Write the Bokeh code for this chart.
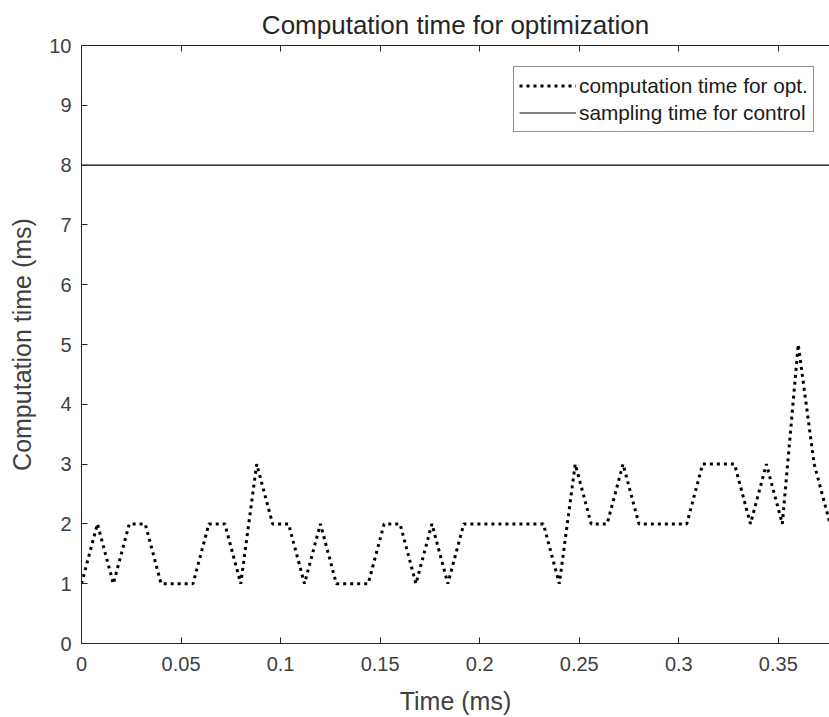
from bokeh.plotting import figure
from bokeh.models import (FixedTicker, LinearAxis, Title, Legend, LegendItem,
                          Range1d, CustomJSTickFormatter)
from bokeh.embed import file_html
from bokeh.resources import INLINE

# ---- data ----
time_ms = [0.000, 0.008, 0.016, 0.024, 0.032, 0.040, 0.048, 0.056, 0.064, 0.072,
           0.080, 0.088, 0.096, 0.104, 0.112, 0.120, 0.128, 0.136, 0.144, 0.152,
           0.160, 0.168, 0.176, 0.184, 0.192, 0.200, 0.208, 0.216, 0.224, 0.232,
           0.240, 0.248, 0.256, 0.264, 0.272, 0.280, 0.288, 0.296, 0.304, 0.312,
           0.320, 0.328, 0.336, 0.344, 0.352, 0.360, 0.368, 0.376]
computation_time = [1, 2, 1, 2, 2, 1, 1, 1, 2, 2,
                    1, 3, 2, 2, 1, 2, 1, 1, 1, 2,
                    2, 1, 2, 1, 2, 2, 2, 2, 2, 2,
                    1, 3, 2, 2, 3, 2, 2, 2, 2, 3,
                    3, 3, 2, 3, 2, 5, 3, 2]
sampling_time = 8

x_ticks = [0, 0.05, 0.1, 0.15, 0.2, 0.25, 0.3, 0.35]
x_tick_labels = ["0", "0.05", "0.1", "0.15", "0.2", "0.25", "0.3", "0.35"]
y_ticks = [0, 1, 2, 3, 4, 5, 6, 7, 8, 9, 10]

title_text = "Computation time for optimization"
x_label = "Time (ms)"
y_label = "Computation time (ms)"
legend_labels = ["computation time for opt.", "sampling time for control"]

# ---- style ----
FONT = "Liberation Sans"
AXC = "#262626"
TXC = "#404040"
W, H = 829, 717
x_end = 0.3757
FRAME_H = 598

p = figure(width=W, height=H, title=None,
           x_range=Range1d(0, x_end), y_range=Range1d(0, 10),
           output_backend="svg", toolbar_location=None,
           min_border_left=81, min_border_right=0,
           min_border_top=45, min_border_bottom=H - 45 - FRAME_H)
p.xgrid.visible = False
p.ygrid.visible = False
p.outline_line_color = None
p.background_fill_color = "white"
p.border_fill_color = "white"

r_comp = p.line(time_ms, computation_time, line_color="black", line_width=3,
                line_dash="3 4", line_cap="butt", line_join="bevel")
r_samp = p.line(time_ms, [sampling_time] * len(time_ms), line_color="black",
                line_width=1.2)


def style_axis(ax, size="20px"):
    ax.axis_line_color = AXC
    ax.axis_line_width = 1
    ax.major_tick_line_color = AXC
    ax.major_tick_in = 6
    ax.major_tick_out = 0
    ax.minor_tick_line_color = None
    ax.major_label_text_font = FONT
    ax.major_label_text_font_size = size
    ax.major_label_text_color = TXC
    ax.axis_label_text_font = FONT
    ax.axis_label_text_font_size = "25px"
    ax.axis_label_text_font_style = "normal"
    ax.axis_label_text_color = TXC


xa = p.xaxis[0]
xa.ticker = FixedTicker(ticks=x_ticks)
xa.major_label_overrides = {t: s for t, s in zip(x_ticks, x_tick_labels)}
style_axis(xa)
xa.axis_label = x_label
xa.major_label_standoff = 13
xa.axis_label_standoff = 13

ya = p.yaxis[0]
ya.ticker = FixedTicker(ticks=y_ticks)
style_axis(ya)
ya.axis_label = y_label
ya.major_label_standoff = 10
ya.axis_label_standoff = 10

# top frame edge with inward ticks, no labels
top = LinearAxis(ticker=FixedTicker(ticks=x_ticks),
                 formatter=CustomJSTickFormatter(code="return ''"))
style_axis(top)
top.major_label_standoff = 0
p.add_layout(top, "above")

title = Title(text=title_text, align="center", text_font=FONT,
              text_font_size="26px", text_font_style="normal",
              text_color="#262626", standoff=11, offset=0)
p.add_layout(title, "above")

legend = Legend(items=[LegendItem(label=legend_labels[0], renderers=[r_comp]),
                       LegendItem(label=legend_labels[1], renderers=[r_samp])],
                location=(432, 511), orientation="vertical",
                border_line_color=AXC, border_line_width=1,
                background_fill_color="white", background_fill_alpha=1,
                padding=5, spacing=0, margin=0,
                label_height=27, glyph_height=27, glyph_width=57,
                label_standoff=3, label_text_font=FONT,
                label_text_font_size="20.8px", label_text_color="#1a1a1a")
p.add_layout(legend)

open("out.html", "w").write(file_html(p, INLINE))
